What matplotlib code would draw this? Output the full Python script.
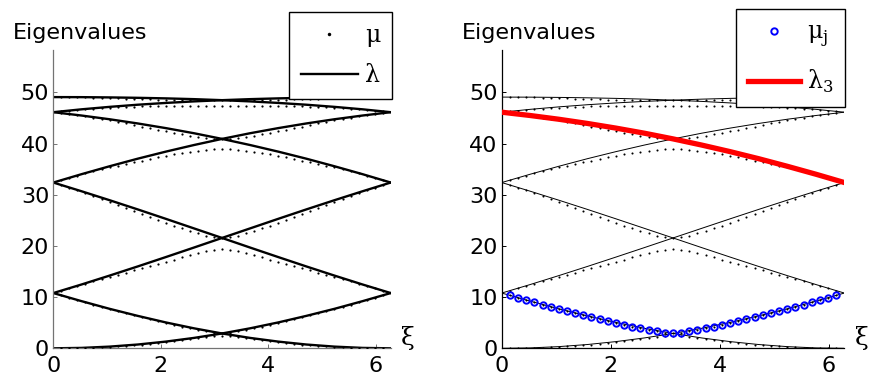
import matplotlib
matplotlib.use("Agg")
import matplotlib.pyplot as plt

# lambda curves, sampled every pi/6 on [0, 2pi]
xi_lam = [0.0, 0.524, 1.047, 1.571, 2.094, 2.618, 3.142, 3.665, 4.189, 4.712, 5.236, 5.760, 6.283]
lam1 = [0.00, 0.08, 0.33, 0.74, 1.31, 2.03, 2.90, 3.91, 5.06, 6.34, 7.72, 9.22, 10.80]
lam2 = [10.80, 9.22, 7.72, 6.34, 5.06, 3.91, 2.90, 2.03, 1.31, 0.74, 0.33, 0.08, 0.00]
lam3 = [10.80, 12.47, 14.21, 16.00, 17.83, 19.69, 21.57, 23.44, 25.31, 27.15, 28.95, 30.70, 32.40]
lam4 = [32.40, 30.70, 28.95, 27.15, 25.31, 23.44, 21.57, 19.69, 17.83, 16.00, 14.21, 12.47, 10.80]
lam5 = [32.40, 34.03, 35.58, 37.06, 38.44, 39.73, 40.93, 42.04, 43.04, 43.95, 44.77, 45.50, 46.15]
lam6 = [46.15, 45.50, 44.77, 43.95, 43.04, 42.04, 40.93, 39.73, 38.44, 37.06, 35.58, 34.03, 32.40]
lam7 = [46.15, 46.71, 47.19, 47.61, 47.96, 48.26, 48.50, 48.70, 48.85, 48.96, 49.04, 49.09, 49.10]
lam8 = [49.10, 49.09, 49.04, 48.96, 48.85, 48.70, 48.50, 48.26, 47.96, 47.61, 47.19, 46.71, 46.15]

# mu eigenvalues (dots)
xi_mu = [0.150, 0.299, 0.449, 0.598, 0.748, 0.898, 1.047, 1.197, 1.346, 1.496,
         1.646, 1.795, 1.945, 2.094, 2.244, 2.394, 2.543, 2.693, 2.842, 2.992,
         3.142, 3.291, 3.441, 3.590, 3.740, 3.890, 4.039, 4.189, 4.338, 4.488,
         4.638, 4.787, 4.937, 5.086, 5.236, 5.386, 5.535, 5.685, 5.834, 5.984, 6.134]
mu1 = [0.01, 0.02, 0.05, 0.09, 0.14, 0.20, 0.28, 0.36, 0.46, 0.58,
       0.70, 0.84, 0.99, 1.15, 1.34, 1.53, 1.73, 1.94, 2.17, 2.38,
       2.50, 2.38, 2.17, 1.94, 1.73, 1.53, 1.34, 1.15, 0.99, 0.84,
       0.70, 0.58, 0.46, 0.36, 0.28, 0.20, 0.14, 0.09, 0.05, 0.02, 0.01]
mu2 = [10.35, 9.89, 9.43, 8.99, 8.55, 8.11, 7.67, 7.26, 6.85, 6.44,
       6.05, 5.67, 5.29, 4.92, 4.58, 4.24, 3.91, 3.60, 3.31, 3.06,
       2.90, 3.06, 3.31, 3.60, 3.91, 4.24, 4.58, 4.92, 5.29, 5.67,
       6.05, 6.44, 6.85, 7.26, 7.67, 8.11, 8.55, 8.99, 9.43, 9.89, 10.35]
mu3 = [11.28, 11.73, 12.18, 12.62, 13.07, 13.50, 13.93, 14.36, 14.79, 15.21,
       15.64, 16.07, 16.49, 16.92, 17.35, 17.78, 18.20, 18.61, 18.98, 19.26,
       19.37, 19.26, 18.98, 18.61, 18.20, 17.78, 17.35, 16.92, 16.49, 16.07,
       15.64, 15.21, 14.79, 14.36, 13.93, 13.50, 13.07, 12.62, 12.18, 11.73, 11.28]
mu4 = [31.91, 31.41, 30.89, 30.36, 29.81, 29.25, 28.68, 28.09, 27.51, 26.92,
       26.33, 25.73, 25.15, 24.57, 24.00, 23.46, 22.93, 22.44, 22.01, 21.69,
       21.57, 21.69, 22.01, 22.44, 22.93, 23.46, 24.00, 24.57, 25.15, 25.73,
       26.33, 26.92, 27.51, 28.09, 28.68, 29.25, 29.81, 30.36, 30.89, 31.41, 31.91]
mu5 = [32.86, 33.31, 33.75, 34.17, 34.57, 34.96, 35.34, 35.69, 36.04, 36.38,
       36.70, 37.01, 37.32, 37.62, 37.89, 38.16, 38.42, 38.65, 38.84, 38.97,
       39.03, 38.97, 38.84, 38.65, 38.42, 38.16, 37.89, 37.62, 37.32, 37.01,
       36.70, 36.38, 36.04, 35.69, 35.34, 34.96, 34.57, 34.17, 33.75, 33.31, 32.86]
mu6 = [45.96, 45.76, 45.55, 45.32, 45.06, 44.81, 44.54, 44.25, 43.95, 43.66,
       43.35, 43.04, 42.73, 42.44, 42.13, 41.84, 41.57, 41.33, 41.12, 40.97,
       40.93, 40.97, 41.12, 41.33, 41.57, 41.84, 42.13, 42.44, 42.73, 43.04,
       43.35, 43.66, 43.95, 44.25, 44.54, 44.81, 45.06, 45.32, 45.55, 45.76, 45.96]
mu7 = [46.30, 46.46, 46.60, 46.73, 46.84, 46.95, 47.05, 47.12, 47.19, 47.25,
       47.30, 47.34, 47.36, 47.39, 47.39, 47.40, 47.40, 47.40, 47.40, 47.40,
       47.40, 47.40, 47.40, 47.40, 47.40, 47.40, 47.39, 47.39, 47.36, 47.34,
       47.30, 47.25, 47.19, 47.12, 47.05, 46.95, 46.84, 46.73, 46.60, 46.46, 46.30]
mu8 = [49.09, 49.08, 49.06, 49.03, 48.99, 48.95, 48.91, 48.86, 48.81, 48.76,
       48.71, 48.67, 48.63, 48.60, 48.56, 48.54, 48.53, 48.51, 48.50, 48.50,
       48.50, 48.50, 48.50, 48.51, 48.53, 48.54, 48.56, 48.60, 48.63, 48.67,
       48.71, 48.76, 48.81, 48.86, 48.91, 48.95, 48.99, 49.03, 49.06, 49.08, 49.09]

lams = [lam1, lam2, lam3, lam4, lam5, lam6, lam7, lam8]
mus = [mu1, mu2, mu3, mu4, mu5, mu6, mu7, mu8]

plt.rcParams['font.family'] = ['DejaVu Sans']
plt.rcParams['mathtext.fontset'] = 'custom'
plt.rcParams['mathtext.rm'] = 'DejaVu Serif'

fig = plt.figure(figsize=(8.7, 3.77), dpi=100)
ax1 = fig.add_axes([0.0613, 0.0761, 0.3878, 0.7912])
ax2 = fig.add_axes([0.5767, 0.0761, 0.3938, 0.7912])

def style_axis(ax, spine_color):
    ax.set_xlim(0, 6.283)
    ax.set_ylim(0, 58.3)
    ax.set_xticks([0, 2, 4, 6])
    ax.set_yticks([0, 10, 20, 30, 40, 50])
    for s in ['top', 'right']:
        ax.spines[s].set_visible(False)
    for s in ['left', 'bottom']:
        ax.spines[s].set_color(spine_color)
        ax.spines[s].set_linewidth(0.9)
    ax.tick_params(direction='in', length=3, width=0.7, labelsize=16, color=spine_color)
    ax.tick_params(axis='x', pad=5.5)
    ax.tick_params(axis='y', pad=3)
    ax.text(1.05, 0.035, 'ξ', transform=ax.transAxes, fontsize=18,
            family='DejaVu Serif', ha='center', va='center')

# left panel
for lam in lams:
    h_lam, = ax1.plot(xi_lam, lam, color='black', lw=1.7, zorder=2)
for mu in mus:
    h_mu, = ax1.plot(xi_mu, mu, ls='none', marker='o', ms=1.6, mew=0, color='black', zorder=3)
style_axis(ax1, '0.45')
leg1 = ax1.legend([h_mu, h_lam], ['μ', 'λ'], loc='upper right',
                  bbox_to_anchor=(0.4506, 0.9682), bbox_transform=fig.transFigure,
                  numpoints=1, fancybox=False, framealpha=1, edgecolor='black',
                  prop={'family': 'DejaVu Serif', 'size': 17}, handlelength=2.4,
                  handletextpad=0.3, labelspacing=0.72, borderpad=0.5, borderaxespad=0)
leg1.get_frame().set_linewidth(1.0)
leg1.legend_handles[0].set_markersize(2.5)

# right panel
for lam in lams:
    ax2.plot(xi_lam, lam, color='black', lw=0.7, zorder=2)
for mu in mus:
    ax2.plot(xi_mu, mu, ls='none', marker='o', ms=1.5, mew=0, color='black', zorder=3)
h_red, = ax2.plot(xi_lam, lam6, color='red', lw=3.8, zorder=4)
h_blue, = ax2.plot(xi_mu, mu2, ls='none', marker='o', ms=4.6, mew=1.4,
                   mfc='none', mec='blue', zorder=5)
style_axis(ax2, 'black')
leg2 = ax2.legend([h_blue, h_red], ['μ$_\\mathrm{j}$', 'λ$_\\mathrm{3}$'], loc='upper right',
                  bbox_to_anchor=(0.9713, 0.9761), bbox_transform=fig.transFigure,
                  numpoints=1, fancybox=False, framealpha=1, edgecolor='black',
                  prop={'family': 'DejaVu Serif', 'size': 17}, handlelength=2.2,
                  handletextpad=0.3, labelspacing=0.8, borderpad=0.5, borderaxespad=0)
leg2.get_frame().set_linewidth(1.0)

fig.text(0.0146, 0.8966, 'Eigenvalues', fontsize=16, ha='left', va='baseline')
fig.text(0.5307, 0.8966, 'Eigenvalues', fontsize=16, ha='left', va='baseline')

fig.savefig('out.png', dpi=100)
